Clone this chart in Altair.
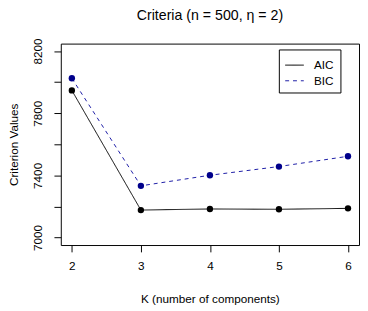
import altair as alt
import pandas as pd

K = [2, 3, 4, 5, 6]
AIC = [7947, 7177, 7184, 7182, 7188]
BIC = [8025, 7333, 7401, 7457, 7523]
series = ["AIC", "BIC"]
x_ticks = [2, 3, 4, 5, 6]
y_ticks = [7000, 7200, 7400, 7600, 7800, 8000, 8200]

rows = []
for k, a, b in zip(K, AIC, BIC):
    rows.append({"K": k, "value": a, "series": "AIC"})
    rows.append({"K": k, "value": b, "series": "BIC"})
df = pd.DataFrame(rows)

FONT = "Liberation Sans"

legend = alt.Legend(
    title=None, orient="none", legendX=223, legendY=6,
    strokeColor="black", fillColor="white", padding=6,
    labelFont=FONT, labelFontSize=12, labelColor="black",
    symbolSize=361, symbolStrokeWidth=1, labelOffset=10, rowPadding=-8,
    symbolType="M-1,0L1,0",
)

x = alt.X("K:Q",
          scale=alt.Scale(domain=[1.84, 6.16], nice=False, zero=False),
          axis=alt.Axis(values=x_ticks, title="K (number of components)",
                        grid=False, domain=False, tickSize=7, tickColor="black",
                        labelPadding=9, labelFontSize=12, labelColor="black",
                        labelFont=FONT, format="d",
                        titleFont=FONT, titleFontSize=12, titleFontWeight="normal",
                        titleColor="black", titleY=55, titleBaseline="middle"))
y = alt.Y("value:Q",
          scale=alt.Scale(domain=[6952, 8248], nice=False, zero=False),
          axis=alt.Axis(values=y_ticks, title="Criterion Values",
                        grid=False, domain=False, tickSize=7, tickColor="black",
                        labelExpr="(datum.value - 7000) % 400 == 0 ? datum.label : ''",
                        labelAngle=270, labelAlign="center", labelBaseline="bottom",
                        labelPadding=10, labelFontSize=12, labelColor="black",
                        labelFont=FONT, format="d",
                        titleFont=FONT, titleFontSize=12, titleFontWeight="normal",
                        titleColor="black", titleX=-48, titleY=103,
                        titleBaseline="middle", titleAngle=270))

lines = alt.Chart(df).mark_line(strokeWidth=1).encode(
    x=x, y=y,
    color=alt.Color("series:N", scale=alt.Scale(domain=series, range=["black", "#1c1ca6"]),
                    legend=legend),
    strokeDash=alt.StrokeDash("series:N", scale=alt.Scale(domain=series, range=[[1, 0], [4, 4]]),
                              legend=legend),
)
points = alt.Chart(df).mark_point(filled=True, size=42, opacity=1, shape="circle").encode(
    x=x, y=y,
    fill=alt.Fill("series:N", scale=alt.Scale(domain=series, range=["black", "#00008B"]),
                  legend=None),
)

chart = alt.layer(lines, points).resolve_scale(fill="independent").properties(
    width=305, height=206,
    title=alt.TitleParams("Criteria (n = 500, η = 2)", font=FONT, fontSize=14.5,
                          fontWeight="normal", color="black", anchor="middle",
                          offset=15),
    autosize=alt.AutoSizeParams(type="none"),
    padding={"left": 54, "top": 33, "right": 1, "bottom": 62},
).configure_view(stroke="black", strokeWidth=1)

chart.save("out.html", embed_options={"renderer": "svg", "actions": False})
